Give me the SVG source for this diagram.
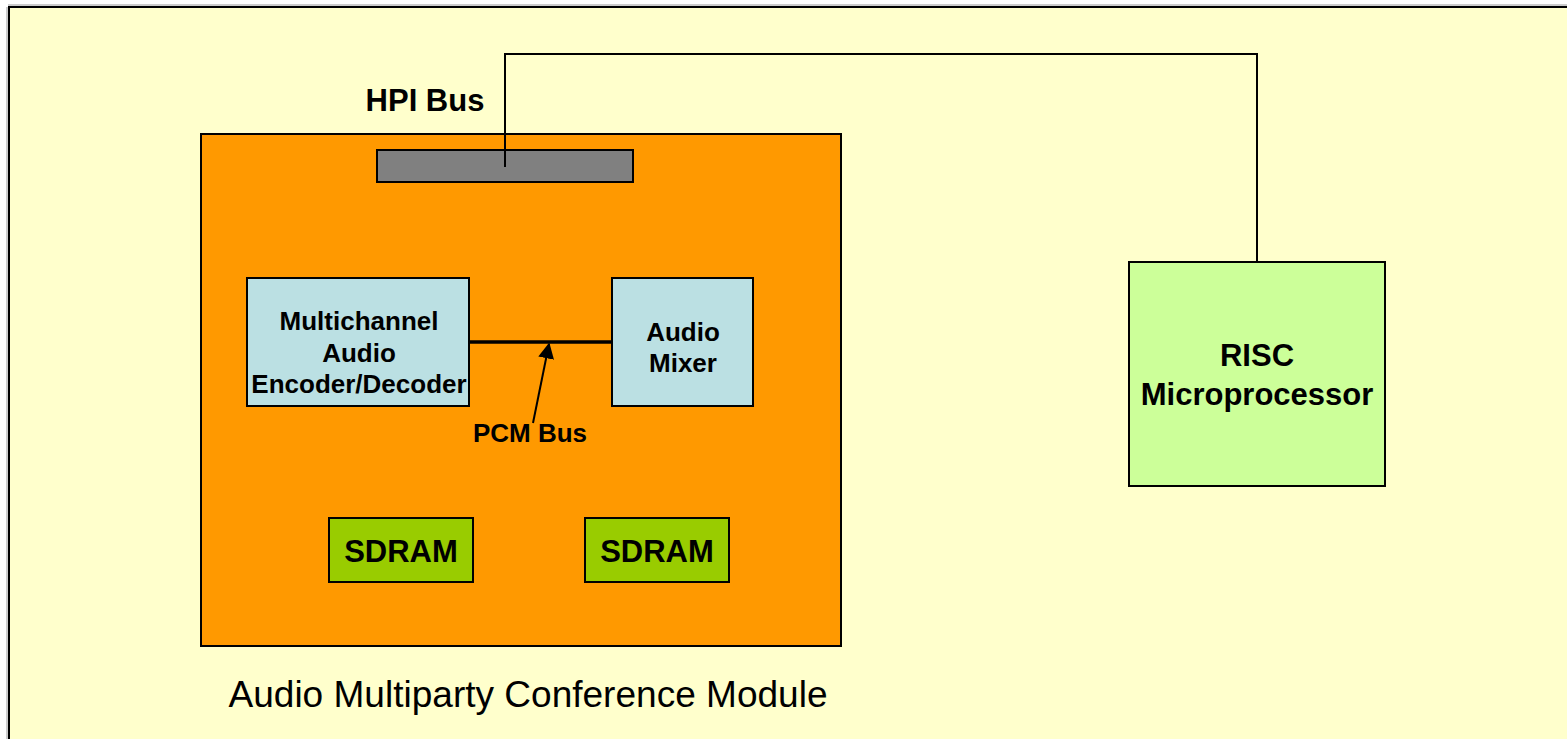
<svg xmlns="http://www.w3.org/2000/svg" width="1567" height="739" viewBox="0 0 1567 739">
<defs>
<style>
.box{stroke:#000;stroke-width:2}
.b{font-family:"Liberation Sans",Arial,sans-serif;font-weight:bold;fill:#000;text-anchor:middle}
.r{font-family:"Liberation Sans",Arial,sans-serif;fill:#000;text-anchor:middle}
.wire{fill:none;stroke:#000;stroke-width:2}
</style>
<marker id="arr" viewBox="0 0 10 10" refX="9" refY="5" markerWidth="8" markerHeight="8" markerUnits="strokeWidth" orient="auto">
<path d="M0,0 L10,5 L0,10 z" fill="#000"/>
</marker>
</defs>
<rect x="0" y="0" width="1567" height="739" fill="#ffffff"/>
<rect x="9" y="7" width="1570" height="745" fill="#FFFFCC" stroke="#000" stroke-width="2"/>
<line x1="7" y1="7" x2="7" y2="739" stroke="#999" stroke-width="1"/>
<line x1="8" y1="5" x2="1567" y2="5" stroke="#999" stroke-width="1"/>

<g id="module">
<rect class="box" x="201" y="134" width="640" height="512" fill="#FF9900"/>
<text class="r" x="528" y="707" font-size="36" textLength="599" lengthAdjust="spacingAndGlyphs">Audio Multiparty Conference Module</text>
</g>
<g id="hpi-port">
<rect class="box" x="377" y="150" width="256" height="32" fill="#808080"/>
</g>
<g id="hpi-label">
<text class="b" x="425" y="111" font-size="31">HPI Bus</text>
</g>
<g id="codec">
<rect class="box" x="247" y="278" width="222" height="128" fill="#BBE0E3"/>
<text class="b" x="359" y="330" font-size="26">Multichannel</text>
<text class="b" x="359" y="362" font-size="26">Audio</text>
<text class="b" x="359" y="393" font-size="26">Encoder/Decoder</text>
</g>
<g id="mixer">
<rect class="box" x="612" y="278" width="141" height="128" fill="#BBE0E3"/>
<text class="b" x="683" y="341" font-size="26">Audio</text>
<text class="b" x="683" y="372" font-size="26">Mixer</text>
</g>
<g id="pcm-label">
<text class="b" x="530" y="442" font-size="26">PCM Bus</text>
</g>
<g id="sdram1">
<rect class="box" x="329" y="518" width="144" height="64" fill="#99CC00"/>
<text class="b" x="401" y="562" font-size="31">SDRAM</text>
</g>
<g id="sdram2">
<rect class="box" x="585" y="518" width="144" height="64" fill="#99CC00"/>
<text class="b" x="657" y="562" font-size="31">SDRAM</text>
</g>
<g id="risc">
<rect class="box" x="1129" y="262" width="256" height="224" fill="#CCFF99"/>
<text class="b" x="1257" y="366" font-size="31">RISC</text>
<text class="b" x="1257" y="405" font-size="31">Microprocessor</text>
</g>
<g id="connectors">
<polyline class="wire" points="505,167 505,54 1257,54 1257,262"/>
<line x1="469" y1="342" x2="612" y2="342" stroke="#000" stroke-width="3.5"/>
<line x1="533" y1="423" x2="549" y2="344" stroke="#000" stroke-width="2" marker-end="url(#arr)"/>
</g>
</svg>
